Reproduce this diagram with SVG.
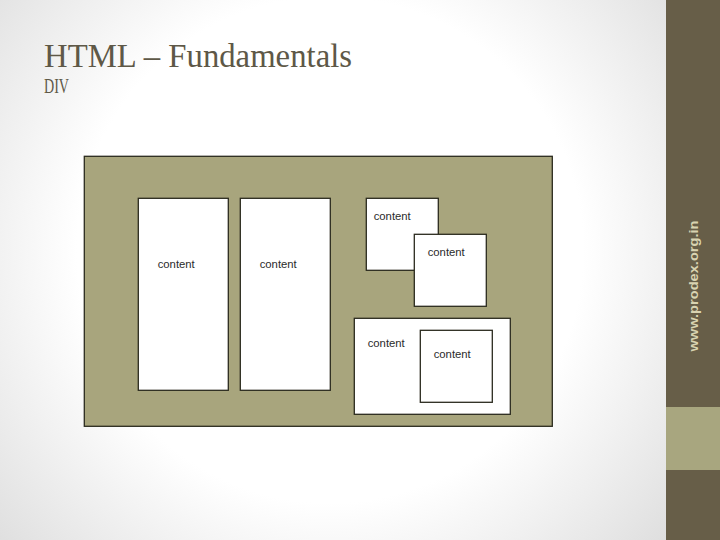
<svg xmlns="http://www.w3.org/2000/svg" width="720" height="540" viewBox="0 0 720 540">
<defs>
<radialGradient id="bg" cx="330" cy="250" r="460" gradientUnits="userSpaceOnUse">
<stop offset="0.55" stop-color="#ffffff"/>
<stop offset="1" stop-color="#dcdcdc"/>
</radialGradient>
<style>
.box{fill:#ffffff;stroke:#2b2a1e;stroke-width:1.3}
.lbl{font-family:"Liberation Sans",Arial,sans-serif;font-size:11.3px;fill:#2a2a2a}
.ttl{font-family:"Liberation Serif","Times New Roman",serif;fill:#5e5847}
</style>
</defs>
<rect x="0" y="0" width="720" height="540" fill="url(#bg)"/>
<rect x="666" y="0" width="54" height="540" fill="#675e48"/>
<rect x="666" y="407" width="54" height="63" fill="#a8a67f"/>
<text x="698" y="286" transform="rotate(-90 698 286)" text-anchor="middle" font-family="'Liberation Sans',Arial,sans-serif" font-weight="bold" font-size="13" fill="#d9d3b1" textLength="131" lengthAdjust="spacingAndGlyphs">www.prodex.org.in</text>
<text class="ttl" x="44" y="67" font-size="33" textLength="308" lengthAdjust="spacingAndGlyphs">HTML – Fundamentals</text>
<text class="ttl" x="44" y="93" font-size="20" textLength="25" lengthAdjust="spacingAndGlyphs">DIV</text>
<g id="outer">
<rect x="84.3" y="156.3" width="468" height="270" fill="#a8a57d" stroke="#2b2a1e" stroke-width="1.3"/>
</g>
<g id="box1">
<rect class="box" x="138.3" y="198.3" width="90" height="192"/>
<text class="lbl" x="157.7" y="268">content</text>
</g>
<g id="box2">
<rect class="box" x="240.3" y="198.3" width="90" height="192"/>
<text class="lbl" x="259.7" y="268">content</text>
</g>
<g id="box3">
<rect class="box" x="366.3" y="198.3" width="72" height="72"/>
<text class="lbl" x="373.7" y="220">content</text>
</g>
<g id="box4">
<rect class="box" x="414.3" y="234.3" width="72" height="72"/>
<text class="lbl" x="427.7" y="256">content</text>
</g>
<g id="box5">
<rect class="box" x="354.3" y="318.3" width="156" height="96"/>
<text class="lbl" x="367.7" y="346.5">content</text>
</g>
<g id="box6">
<rect class="box" x="420.3" y="330.3" width="72" height="72"/>
<text class="lbl" x="433.7" y="358">content</text>
</g>
<g id="connectors"/>
</svg>
